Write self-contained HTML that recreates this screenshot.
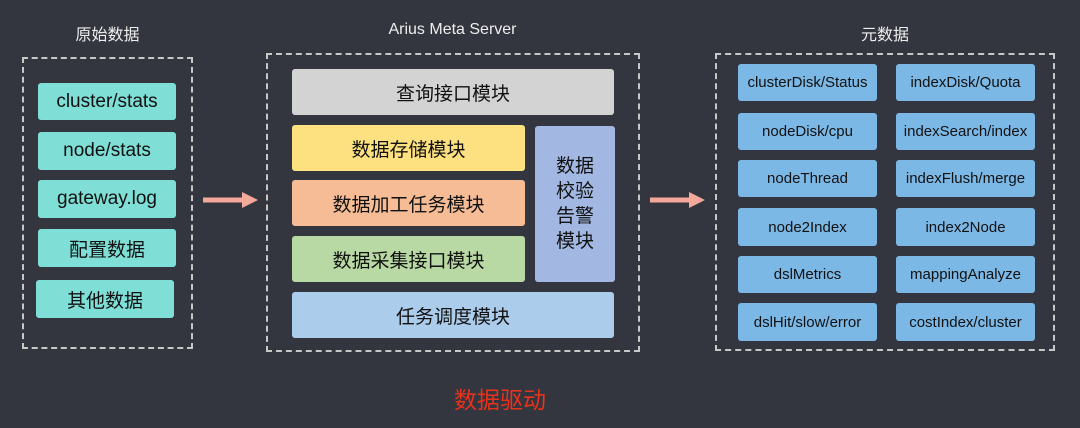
<!DOCTYPE html>
<html><head><meta charset="utf-8"><style>
body{margin:0;width:1080px;height:428px;background:#33353f;position:relative;overflow:hidden;font-family:"Liberation Sans","Noto Sans CJK SC",sans-serif;}
.a{position:absolute;display:flex;align-items:center;justify-content:center;box-sizing:border-box;border-radius:3px;color:#111;white-space:nowrap;}
.d{position:absolute;border:2px dashed #c8c8c8;box-sizing:border-box;}
.t{position:absolute;color:#eee;font-size:16px;text-align:center;}
.l{background:#7fded6;font-size:19px;}
.b{background:#7cb8e6;font-size:15px;}
.m{font-size:19px;}
</style></head><body>
<div class="t" style="left:22px;width:171px;top:21px">原始数据</div>
<div class="t" style="left:266px;width:373px;top:21px">Arius Meta Server</div>
<div class="t" style="left:715px;width:340px;top:21px">元数据</div>

<div class="d" style="left:22px;top:57px;width:171px;height:292px"></div>
<div class="a l" style="left:38px;top:83px;width:138px;height:37px">cluster/stats</div>
<div class="a l" style="left:38px;top:132px;width:138px;height:38px">node/stats</div>
<div class="a l" style="left:38px;top:180px;width:138px;height:38px">gateway.log</div>
<div class="a l" style="left:38px;top:229px;width:138px;height:38px">配置数据</div>
<div class="a l" style="left:36px;top:280px;width:138px;height:38px">其他数据</div>

<svg style="position:absolute;left:200px;top:189px" width="62" height="22"><path d="M3 11H44" stroke="#f4a99a" stroke-width="5"/><path d="M42 3L58 11L42 19Z" fill="#f4a99a"/></svg>
<svg style="position:absolute;left:647px;top:189px" width="62" height="22"><path d="M3 11H44" stroke="#f4a99a" stroke-width="5"/><path d="M42 3L58 11L42 19Z" fill="#f4a99a"/></svg>

<div class="d" style="left:266px;top:53px;width:374px;height:299px"></div>
<div class="a m" style="left:292px;top:69px;width:322px;height:46px;background:#d3d3d3">查询接口模块</div>
<div class="a m" style="left:292px;top:125px;width:233px;height:46px;background:#fde080">数据存储模块</div>
<div class="a m" style="left:292px;top:180px;width:233px;height:46px;background:#f5bc96">数据加工任务模块</div>
<div class="a m" style="left:292px;top:236px;width:233px;height:46px;background:#b8d8a4">数据采集接口模块</div>
<div class="a m" style="left:535px;top:126px;width:80px;height:156px;background:#a2b8e2;text-align:center;line-height:25px;white-space:normal;padding:0 16px">数据校验告警模块</div>
<div class="a m" style="left:292px;top:292px;width:322px;height:46px;background:#acccec">任务调度模块</div>

<div class="d" style="left:715px;top:53px;width:340px;height:298px"></div>
<div class="a b" style="left:738px;top:64px;width:139px;height:37px">clusterDisk/Status</div>
<div class="a b" style="left:896px;top:64px;width:139px;height:37px">indexDisk/Quota</div>
<div class="a b" style="left:738px;top:113px;width:139px;height:37px">nodeDisk/cpu</div>
<div class="a b" style="left:896px;top:113px;width:139px;height:37px">indexSearch/index</div>
<div class="a b" style="left:738px;top:160px;width:139px;height:37px">nodeThread</div>
<div class="a b" style="left:896px;top:160px;width:139px;height:37px">indexFlush/merge</div>
<div class="a b" style="left:738px;top:208px;width:139px;height:38px">node2Index</div>
<div class="a b" style="left:896px;top:208px;width:139px;height:38px">index2Node</div>
<div class="a b" style="left:738px;top:256px;width:139px;height:37px">dslMetrics</div>
<div class="a b" style="left:896px;top:256px;width:139px;height:37px">mappingAnalyze</div>
<div class="a b" style="left:738px;top:303px;width:139px;height:38px">dslHit/slow/error</div>
<div class="a b" style="left:896px;top:303px;width:139px;height:38px">costIndex/cluster</div>

<div style="position:absolute;left:440px;width:120px;top:381px;text-align:center;color:#e8321c;font-size:23px">数据驱动</div>
</body></html>
